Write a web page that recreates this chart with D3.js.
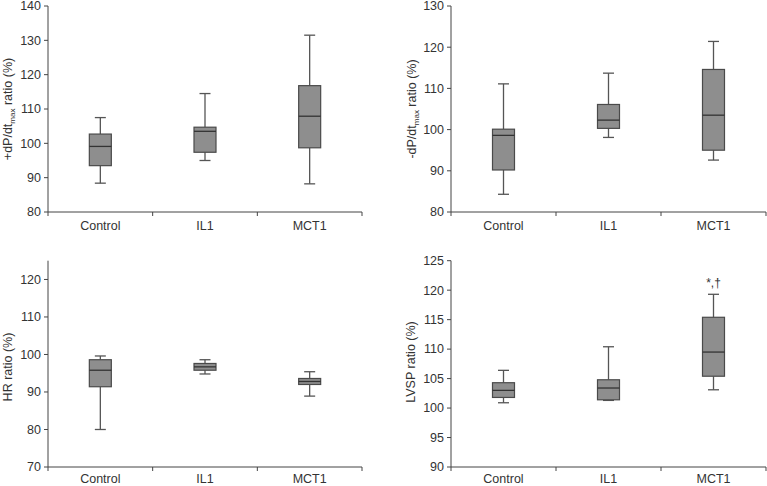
<!DOCTYPE html>
<html><head><meta charset="utf-8">
<script src="https://cdn.jsdelivr.net/npm/d3@7"></script>
<style>
html,body{margin:0;padding:0;background:#fff;}
svg{display:block;font-family:"Liberation Sans",Arial,sans-serif;}
</style></head>
<body>
<svg id="c" width="767" height="486"></svg>
<script>
const categories = ["Control", "IL1", "MCT1"];
// [whiskerLow, q1, median, q3, whiskerHigh]
const dpdtPlus  = [[88.4, 93.5, 99.1, 102.7, 107.5], [95.0, 97.4, 103.5, 104.7, 114.5], [88.2, 98.7, 107.9, 116.8, 131.5]];
const dpdtMinus = [[84.3, 90.2, 98.6, 100.1, 111.1], [98.1, 100.3, 102.3, 106.1, 113.7], [92.6, 95.0, 103.5, 114.6, 121.4]];
const hrRatio   = [[80.0, 91.4, 95.8, 98.6, 99.6], [94.8, 95.8, 96.7, 97.6, 98.6], [88.9, 92.0, 92.8, 93.6, 95.4]];
const lvspRatio = [[100.9, 101.8, 103.0, 104.3, 106.4], [101.3, 101.4, 103.4, 104.8, 110.4], [103.1, 105.4, 109.5, 115.4, 119.3]];
const ticksA = [80, 90, 100, 110, 120, 130, 140];
const ticksB = [80, 90, 100, 110, 120, 130];
const ticksC = [70, 80, 90, 100, 110, 120];
const ticksD = [90, 95, 100, 105, 110, 115, 120, 125];
const annotD = ["", "", "*,\u2020"];

const svg = d3.select("#c");
const axisCol = "#444", textCol = "#333";

const panels = [
  {data: dpdtPlus,  ticks: ticksA, domain: [80, 140], x: [48, 362],  y: [212, 6],
   label: ["+dP/dt", "max", " ratio (%)"], lx: 8,  ly: 109, annot: null, lab: 14},
  {data: dpdtMinus, ticks: ticksB, domain: [80, 130], x: [451, 766], y: [212, 6],
   label: ["-dP/dt", "max", " ratio (%)"], lx: 412, ly: 109, annot: null, lab: 14},
  {data: hrRatio,   ticks: ticksC, domain: [70, 125], x: [48, 362],  y: [467, 260.7],
   label: ["HR ratio (%)"], lx: 8, ly: 367, annot: null, lab: 11.5},
  {data: lvspRatio, ticks: ticksD, domain: [90, 125], x: [451, 766], y: [467, 260.7],
   label: ["LVSP ratio (%)"], lx: 411, ly: 362, annot: annotD, lab: 11.5}
];

panels.forEach(p => {
  const g = svg.append("g");
  const x = d3.scaleBand().domain(categories).range(p.x).padding(0);
  const y = d3.scaleLinear().domain(p.domain).range(p.y);

  // y axis
  g.append("line").attr("x1", p.x[0]).attr("x2", p.x[0]).attr("y1", p.y[0]).attr("y2", p.y[1])
    .attr("stroke", axisCol).attr("stroke-width", 1);
  p.ticks.forEach(t => {
    g.append("line").attr("x1", p.x[0] - 4).attr("x2", p.x[0]).attr("y1", y(t)).attr("y2", y(t))
      .attr("stroke", axisCol);
    g.append("text").attr("x", p.x[0] - 7).attr("y", y(t)).attr("dy", "0.35em")
      .attr("text-anchor", "end").attr("font-size", 12.5).attr("fill", textCol).text(t);
  });
  // x axis
  g.append("line").attr("x1", p.x[0]).attr("x2", p.x[1]).attr("y1", p.y[0]).attr("y2", p.y[0])
    .attr("stroke", axisCol);
  const bounds = categories.map(c => x(c)).concat([p.x[1]]);
  bounds.forEach(b => {
    g.append("line").attr("x1", b).attr("x2", b).attr("y1", p.y[0]).attr("y2", p.y[0] + 4)
      .attr("stroke", axisCol);
  });
  categories.forEach(c => {
    g.append("text").attr("x", x(c) + x.bandwidth() / 2).attr("y", p.y[0] + p.lab).attr("dy", "0.35em")
      .attr("text-anchor", "middle").attr("font-size", 12.5).attr("fill", textCol).text(c);
  });

  // boxes
  const bw = 22, cw = 11;
  p.data.forEach((d, i) => {
    const cx = x(categories[i]) + x.bandwidth() / 2;
    const [lo, q1, med, q3, hi] = d;
    g.append("line").attr("x1", cx).attr("x2", cx).attr("y1", y(hi)).attr("y2", y(q3))
      .attr("stroke", "#555").attr("stroke-width", 1.3);
    g.append("line").attr("x1", cx).attr("x2", cx).attr("y1", y(q1)).attr("y2", y(lo))
      .attr("stroke", "#555").attr("stroke-width", 1.3);
    g.append("line").attr("x1", cx - cw / 2).attr("x2", cx + cw / 2).attr("y1", y(hi)).attr("y2", y(hi))
      .attr("stroke", "#555").attr("stroke-width", 1.3);
    g.append("line").attr("x1", cx - cw / 2).attr("x2", cx + cw / 2).attr("y1", y(lo)).attr("y2", y(lo))
      .attr("stroke", "#555").attr("stroke-width", 1.3);
    g.append("rect").attr("x", cx - bw / 2).attr("y", y(q3)).attr("width", bw).attr("height", y(q1) - y(q3))
      .attr("fill", "#8e8e8e").attr("stroke", "#4a4a4a").attr("stroke-width", 1.2);
    g.append("line").attr("x1", cx - bw / 2).attr("x2", cx + bw / 2).attr("y1", y(med)).attr("y2", y(med))
      .attr("stroke", "#333").attr("stroke-width", 1.3);
    if (p.annot && p.annot[i]) {
      g.append("text").attr("x", cx).attr("y", y(hi) - 7).attr("text-anchor", "middle")
        .attr("font-size", 12).attr("fill", textCol).text(p.annot[i]);
    }
  });

  // y label
  const t = g.append("text").attr("transform", `translate(${p.lx},${p.ly}) rotate(-90)`)
    .attr("text-anchor", "middle").attr("dy", "0.35em").attr("font-size", 12.5).attr("fill", textCol);
  if (p.label.length === 3) {
    t.append("tspan").text(p.label[0]);
    t.append("tspan").attr("font-size", 8).attr("dy", 3).text(p.label[1]);
    t.append("tspan").attr("dy", -3).text(p.label[2]);
  } else {
    t.text(p.label[0]);
  }
});
</script>
</body></html>
